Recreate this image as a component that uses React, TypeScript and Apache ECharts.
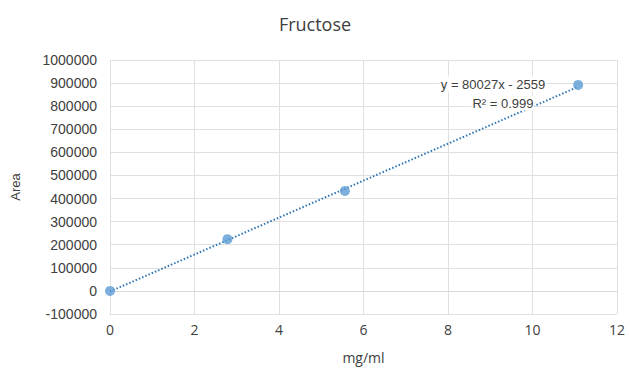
import React, { useEffect, useRef } from "react";
import * as echarts from "echarts";

const title = "Fructose";
const xName = "mg/ml";
const yName = "Area";
const concentrations = [0, 2.78, 5.56, 11.08];
const areas = [0, 224000, 433000, 892000];
const trendX = [0, 11.08];
const trendY = [-2559, 884140];
const equationText = "y = 80027x - 2559";
const r2Text = "R² = 0.999";

export default function App() {
  const ref = useRef<HTMLDivElement>(null);
  useEffect(() => {
    if (!ref.current) return;
    const chart = echarts.init(ref.current, undefined, { renderer: "svg" });
    const axisFont = { color: "#404040", fontSize: 14, fontFamily: "Liberation Sans, Arial" };
    const calibriLike = { color: "#404040", fontSize: 15, fontFamily: "Open Sans" };
    const eqStyle = {
      fill: "#404040",
      fontSize: 13,
      fontFamily: "Liberation Sans, Arial",
      align: "center",
      verticalAlign: "middle",
      backgroundColor: "#ffffff",
      padding: [1, 1],
    };
    chart.setOption({
      animation: false,
      backgroundColor: "#ffffff",
      title: {
        text: title,
        left: "center",
        top: 10,
        textStyle: { fontSize: 18, fontWeight: "normal", color: "#404040", fontFamily: "Open Sans" },
      },
      grid: { left: 110, right: 13, top: 60, bottom: 43 },
      xAxis: {
        type: "value",
        min: 0,
        max: 12,
        interval: 2,
        name: xName,
        nameLocation: "middle",
        nameGap: 36,
        nameTextStyle: { ...calibriLike, fontSize: 14 },
        axisLine: { show: true, lineStyle: { color: "#d9d9d9" } },
        axisTick: { show: false },
        axisLabel: { ...calibriLike, fontSize: 14, margin: 8 },
        splitLine: { show: true, lineStyle: { color: "#e0e0e0" } },
      },
      yAxis: {
        type: "value",
        min: -100000,
        max: 1000000,
        interval: 100000,
        name: yName,
        nameLocation: "middle",
        nameGap: 88,
        nameTextStyle: { ...axisFont, fontSize: 13 },
        axisLine: { show: false },
        axisTick: { show: false },
        axisLabel: { ...axisFont, margin: 13, formatter: (v: number) => String(v) },
        splitLine: { show: true, lineStyle: { color: "#e0e0e0" } },
      },
      series: [
        {
          type: "line",
          data: trendX.map((x, i) => [x, trendY[i]]),
          showSymbol: false,
          symbol: "none",
          lineStyle: { color: "#2e75b6", width: 2, type: [1.5, 2] },
          z: 2,
        },
        {
          type: "scatter",
          data: concentrations.map((x, i) => [x, areas[i]]),
          symbolSize: 10,
          itemStyle: { color: "#5b9bd5" },
          z: 3,
        },
      ],
      graphic: [
        {
          type: "text",
          x: 493,
          y: 84,
          z: 10,
          style: { ...eqStyle, text: equationText },
        },
        {
          type: "text",
          x: 503,
          y: 103,
          z: 10,
          style: { ...eqStyle, text: r2Text },
        },
      ],
    });
    return () => chart.dispose();
  }, []);
  return <div ref={ref} style={{ width: 630, height: 369, position: "absolute", left: 0, top: 0 }} />;
}
